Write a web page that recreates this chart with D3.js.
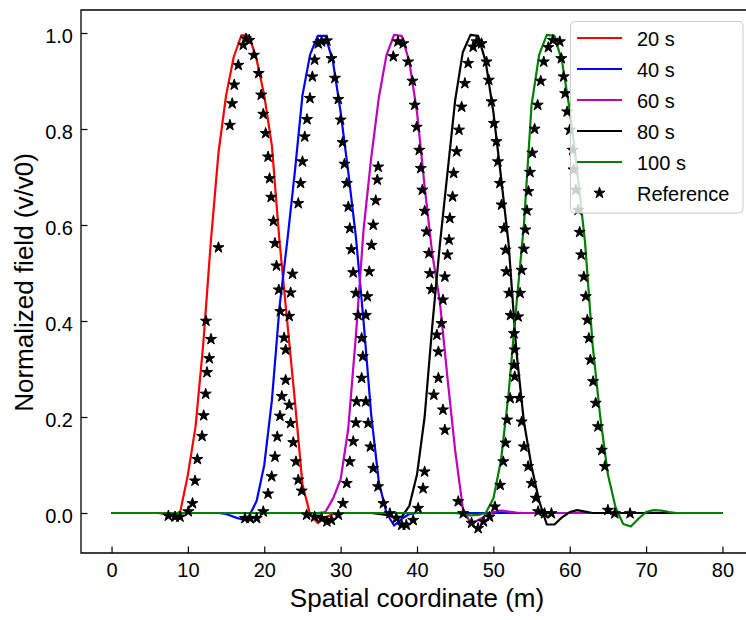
<!DOCTYPE html>
<html><head><meta charset="utf-8">
<script src="https://cdn.jsdelivr.net/npm/d3@7/dist/d3.min.js"></script>
<style>
body{margin:0;background:#fff}
svg{display:block;font-family:"Liberation Sans",Arial,Helvetica,sans-serif}
</style>
</head><body>
<svg id="chart" width="746" height="620"></svg>
<script>
// ---------- data ----------
const xTickValues = [0, 10, 20, 30, 40, 50, 60, 70, 80];
const yTickValues = [0.0, 0.2, 0.4, 0.6, 0.8, 1.0];
const seriesLabels = ["20 s", "40 s", "60 s", "80 s", "100 s"];
const referenceLabel = "Reference";
const xLabel = "Spatial coordinate (m)";
const yLabel = "Normalized field (v/v0)";

// simulated normalized field, [position (m), value]
const field20s = [[0,0],[6,0],[7,-0.002],[8,-0.005],[9,0.003],[10,0.08],[11,0.18],[12,0.35],[13,0.565],[14,0.75],[15,0.87],[16,0.95],[17,0.995],[18,0.995],[19,0.945],[20,0.87],[21,0.765],[22,0.565],[23,0.40],[24,0.235],[25,0.06],[26,-0.003],[27,-0.021],[28,-0.01],[29,-0.002],[30,0],[80,0]];
const field40s = [[0,0],[14,0],[15,-0.002],[16,-0.008],[17,-0.013],[18,-0.007],[19,0.025],[20,0.1],[21,0.235],[22,0.43],[23,0.565],[24,0.71],[25,0.87],[26,0.955],[27,0.994],[28,0.994],[29,0.94],[30,0.835],[31,0.71],[32,0.575],[33,0.40],[34,0.205],[35,0.065],[36,0.0],[37,-0.026],[38,-0.012],[39,-0.002],[40,0],[80,0]];
const field60s = [[0,0],[27,0],[28,0.002],[29,0.03],[30,0.07],[31,0.176],[32,0.37],[33,0.59],[34,0.74],[35,0.865],[36,0.954],[37,0.996],[38,0.994],[39,0.94],[40,0.835],[41,0.68],[42,0.54],[43,0.44],[44,0.28],[45,0.13],[46,0.01],[47,-0.021],[48,-0.015],[49,-0.006],[50,0.002],[51,0.005],[52,0.003],[53,0.001],[54,0],[80,0]];
const field80s = [[0,0],[34,0],[35,-0.002],[36,-0.004],[37,-0.008],[38,-0.008],[39,0.015],[40,0.08],[41,0.2],[42,0.39],[43,0.56],[44,0.71],[45,0.86],[46,0.96],[47,0.996],[48,0.994],[49,0.94],[50,0.835],[51,0.70],[52,0.56],[53,0.34],[54,0.19],[55,0.097],[56,0.025],[57,-0.024],[58,-0.024],[59,-0.009],[60,0.002],[61,0.006],[62,0.003],[63,0],[80,0]];
const field100s = [[0,0],[45,0],[46,-0.002],[47,-0.005],[48,-0.004],[49,0.0],[50,0.03],[51,0.11],[52,0.25],[53,0.43],[54,0.6],[55,0.85],[56,0.955],[57,0.996],[58,0.994],[59,0.94],[60,0.84],[61,0.71],[62,0.565],[63,0.35],[64,0.2],[65,0.08],[66,0.012],[67,-0.023],[68,-0.028],[69,-0.012],[70,0.002],[71,0.006],[72,0.005],[73,0.002],[74,0],[80,0]];

// reference solution points, [position (m), value]
const reference20s = [[7.44,-0.006],[8.31,-0.008],[8.97,-0.008],[10.05,0.003],[10.6,0.02],[10.93,0.067],[11.24,0.112],[11.85,0.16],[12.07,0.203],[12.33,0.248],[12.5,0.293],[12.8,0.322],[13.02,0.362],[12.37,0.40],[14.0,0.553],[15.5,0.808],[15.8,0.853],[16.07,0.892],[16.6,0.933],[17.25,0.975],[17.6,0.988],[18.04,0.985],[18.65,0.954],[19.27,0.916],[19.6,0.871],[19.87,0.831],[20.18,0.791],[20.5,0.742],[20.7,0.697],[20.9,0.658],[21.2,0.608],[21.4,0.562],[21.6,0.515],[21.9,0.465],[22.1,0.42],[22.6,0.365],[22.8,0.34],[22.8,0.277],[23.27,0.225],[23.45,0.187],[23.8,0.147],[24.15,0.107],[24.45,0.069],[24.9,0.046],[25.55,-0.004]];
const reference40s = [[17.47,-0.011],[18.13,-0.011],[19.0,-0.011],[19.87,0.003],[20.5,0.04],[20.97,0.076],[21.4,0.117],[21.7,0.159],[22.05,0.202],[22.3,0.243],[23.27,0.41],[23.45,0.459],[23.7,0.498],[24.45,0.645],[24.76,0.687],[25.0,0.732],[25.3,0.784],[25.6,0.82],[25.98,0.864],[26.3,0.909],[26.6,0.944],[27.07,0.978],[27.5,0.982],[28.2,0.984],[28.8,0.947],[29.25,0.906],[29.7,0.862],[30.0,0.819],[30.26,0.772],[30.5,0.727],[30.8,0.687],[31.0,0.638],[31.2,0.593],[31.4,0.549],[31.65,0.501],[32.0,0.458],[32.3,0.412],[32.75,0.364],[32.9,0.326],[33.3,0.232],[33.6,0.187],[33.9,0.138],[34.27,0.093],[34.9,0.055],[35.6,0.02],[36.45,-0.001],[37.3,-0.011]];
const reference60s = [[26.6,-0.008],[27.5,-0.011],[28.2,-0.018],[28.8,-0.015],[29.7,-0.004],[30.3,0.02],[30.8,0.062],[31.2,0.107],[31.65,0.149],[32.0,0.188],[32.1,0.232],[32.75,0.281],[33.3,0.412],[33.5,0.451],[33.75,0.503],[34.05,0.558],[34.27,0.60],[34.6,0.651],[34.8,0.694],[34.92,0.721],[36.9,0.951],[37.5,0.982],[38.2,0.978],[38.85,0.94],[39.4,0.90],[39.7,0.85],[39.95,0.804],[40.3,0.756],[40.5,0.718],[40.7,0.673],[41.0,0.629],[41.25,0.586],[41.56,0.541],[41.7,0.499],[41.9,0.466],[42.6,0.371],[42.8,0.336],[42.8,0.281],[43.4,0.215],[43.65,0.173],[45.4,0.024],[46.05,-0.001]];
const reference80s = [[38.0,-0.025],[38.6,-0.025],[39.5,-0.015],[40.15,0.01],[40.8,0.051],[41.0,0.086],[42.2,0.246],[43.2,0.395],[43.4,0.444],[43.65,0.492],[44.0,0.538],[44.2,0.569],[44.3,0.614],[44.66,0.659],[44.8,0.708],[45.2,0.753],[45.5,0.798],[45.84,0.846],[46.27,0.895],[46.7,0.937],[47.35,0.971],[47.8,0.982],[48.45,0.978],[49.1,0.94],[49.4,0.902],[49.76,0.857],[50.07,0.812],[50.4,0.774],[50.6,0.732],[50.85,0.687],[51.07,0.642],[51.4,0.593],[51.6,0.548],[51.7,0.503],[52.07,0.458],[52.25,0.412],[52.7,0.374],[52.8,0.34],[52.7,0.308],[52.8,0.284],[53.4,0.239],[53.7,0.19],[54.0,0.138],[54.55,0.097],[55.0,0.062],[55.56,0.031],[55.86,0.003],[56.7,-0.001],[57.6,-0.001]];
const reference100s = [[47.15,-0.021],[48.0,-0.032],[48.7,-0.018],[49.5,-0.008],[50.2,0.013],[50.9,0.058],[51.3,0.107],[51.6,0.146],[51.8,0.194],[52.2,0.239],[53.25,0.409],[53.5,0.458],[53.7,0.506],[54.0,0.55],[54.2,0.59],[54.4,0.63],[54.6,0.67],[54.8,0.71],[55.1,0.75],[55.4,0.8],[55.8,0.85],[56.2,0.9],[56.6,0.94],[57.2,0.97],[57.8,0.985],[58.7,0.982],[58.9,0.947],[59.2,0.909],[59.4,0.874],[59.66,0.836],[60.0,0.798],[60.4,0.756],[60.5,0.715],[60.8,0.673],[61.1,0.631],[61.3,0.585],[61.5,0.538],[61.85,0.492],[62.1,0.451],[62.3,0.402],[62.5,0.364],[62.7,0.319],[63.06,0.274],[63.4,0.229],[63.7,0.18],[64.2,0.131],[64.6,0.097],[65.0,0.006],[65.9,-0.001],[67.9,-0.001]];

// ---------- styles ----------
const seriesColors = ["#ff0000", "#0000ff", "#bf00bf", "#000000", "#008000"];
const fieldSeries = [field20s, field40s, field60s, field80s, field100s];
const referenceSeries = [reference20s, reference40s, reference60s, reference80s, reference100s];

// ---------- layout ----------
const svg = d3.select("#chart");
const plot = {left: 81, top: 10, right: 753, bottom: 553};
const x = d3.scaleLinear().domain([-4, 84]).range([plot.left, plot.right]);
const y = d3.scaleLinear().domain([-0.08333, 1.04792]).range([plot.bottom, plot.top]);

svg.append("defs").append("clipPath").attr("id", "clip")
  .append("rect").attr("x", plot.left).attr("y", plot.top)
  .attr("width", plot.right - plot.left).attr("height", plot.bottom - plot.top);

const dataG = svg.append("g").attr("clip-path", "url(#clip)");
const line = d3.line().x(d => x(d[0])).y(d => y(d[1]));

fieldSeries.forEach((s, i) => {
  dataG.append("path").datum(s)
    .attr("d", line)
    .attr("fill", "none")
    .attr("stroke", seriesColors[i])
    .attr("stroke-width", 2.2)
    .attr("stroke-linejoin", "round");
});

const starPath = d3.symbol(d3.symbolStar, 38)();
const allRef = referenceSeries.flat();
dataG.selectAll("path.star").data(allRef).enter().append("path")
  .attr("class", "star")
  .attr("d", starPath)
  .attr("transform", d => `translate(${x(d[0])},${y(d[1])})`)
  .attr("fill", "#000")
  .attr("stroke", "#000")
  .attr("stroke-width", 1)
  .attr("stroke-linejoin", "round");

// ---------- axes ----------
const xAxis = d3.axisBottom(x).tickValues(xTickValues).tickSizeInner(-6.5).tickSizeOuter(0).tickFormat(d3.format("d"));
const gx = svg.append("g").attr("transform", `translate(0,${plot.bottom})`).call(xAxis);
gx.select(".domain").remove();
gx.selectAll(".tick line").attr("stroke", "#000").attr("stroke-width", 1.2);
gx.selectAll(".tick text").attr("y", 24).attr("dy", null)
  .attr("font-size", 20).attr("fill", "#000").attr("font-family", null);

const yAxis = d3.axisLeft(y).tickValues(yTickValues).tickSizeInner(-6.5).tickSizeOuter(0).tickFormat(d3.format(".1f"));
const gy = svg.append("g").attr("transform", `translate(${plot.left},0)`).call(yAxis);
gy.select(".domain").remove();
gy.selectAll(".tick line").attr("stroke", "#000").attr("stroke-width", 1.2);
gy.selectAll(".tick text").attr("x", -8).attr("y", 9).attr("dy", null)
  .attr("font-size", 20).attr("fill", "#000").attr("font-family", null);

// frame (spines)
svg.append("path")
  .attr("d", `M${plot.right},${plot.top}H${plot.left}V${plot.bottom}H${plot.right}`)
  .attr("fill", "none").attr("stroke", "#000").attr("stroke-width", 1.3);

// axis labels
svg.append("text").attr("x", 417).attr("y", 607).attr("text-anchor", "middle")
  .attr("font-size", 26).attr("fill", "#000").text(xLabel);
svg.append("text").attr("transform", "translate(33,282.5) rotate(-90)").attr("text-anchor", "middle")
  .attr("font-size", 26).attr("fill", "#000").text(yLabel);

// ---------- legend ----------
const lg = svg.append("g");
lg.append("rect").attr("x", 570.5).attr("y", 21.5).attr("width", 172.5).attr("height", 191.5)
  .attr("rx", 4).attr("fill", "#fff").attr("fill-opacity", 0.8)
  .attr("stroke", "#cccccc").attr("stroke-width", 1);
const rowY = i => 38 + i * 31;
seriesLabels.forEach((lab, i) => {
  lg.append("line").attr("x1", 577).attr("x2", 622).attr("y1", rowY(i)).attr("y2", rowY(i))
    .attr("stroke", seriesColors[i]).attr("stroke-width", 2.2);
  lg.append("text").attr("x", 637).attr("y", rowY(i) + 7.5).attr("font-size", 20)
    .attr("fill", "#000").text(lab);
});
lg.append("path").attr("d", starPath).attr("transform", `translate(599.5,${rowY(5)})`)
  .attr("fill", "#000").attr("stroke", "#000").attr("stroke-width", 1).attr("stroke-linejoin", "round");
lg.append("text").attr("x", 637).attr("y", rowY(5) + 7.5).attr("font-size", 20)
  .attr("fill", "#000").text(referenceLabel);
</script>
</body></html>
